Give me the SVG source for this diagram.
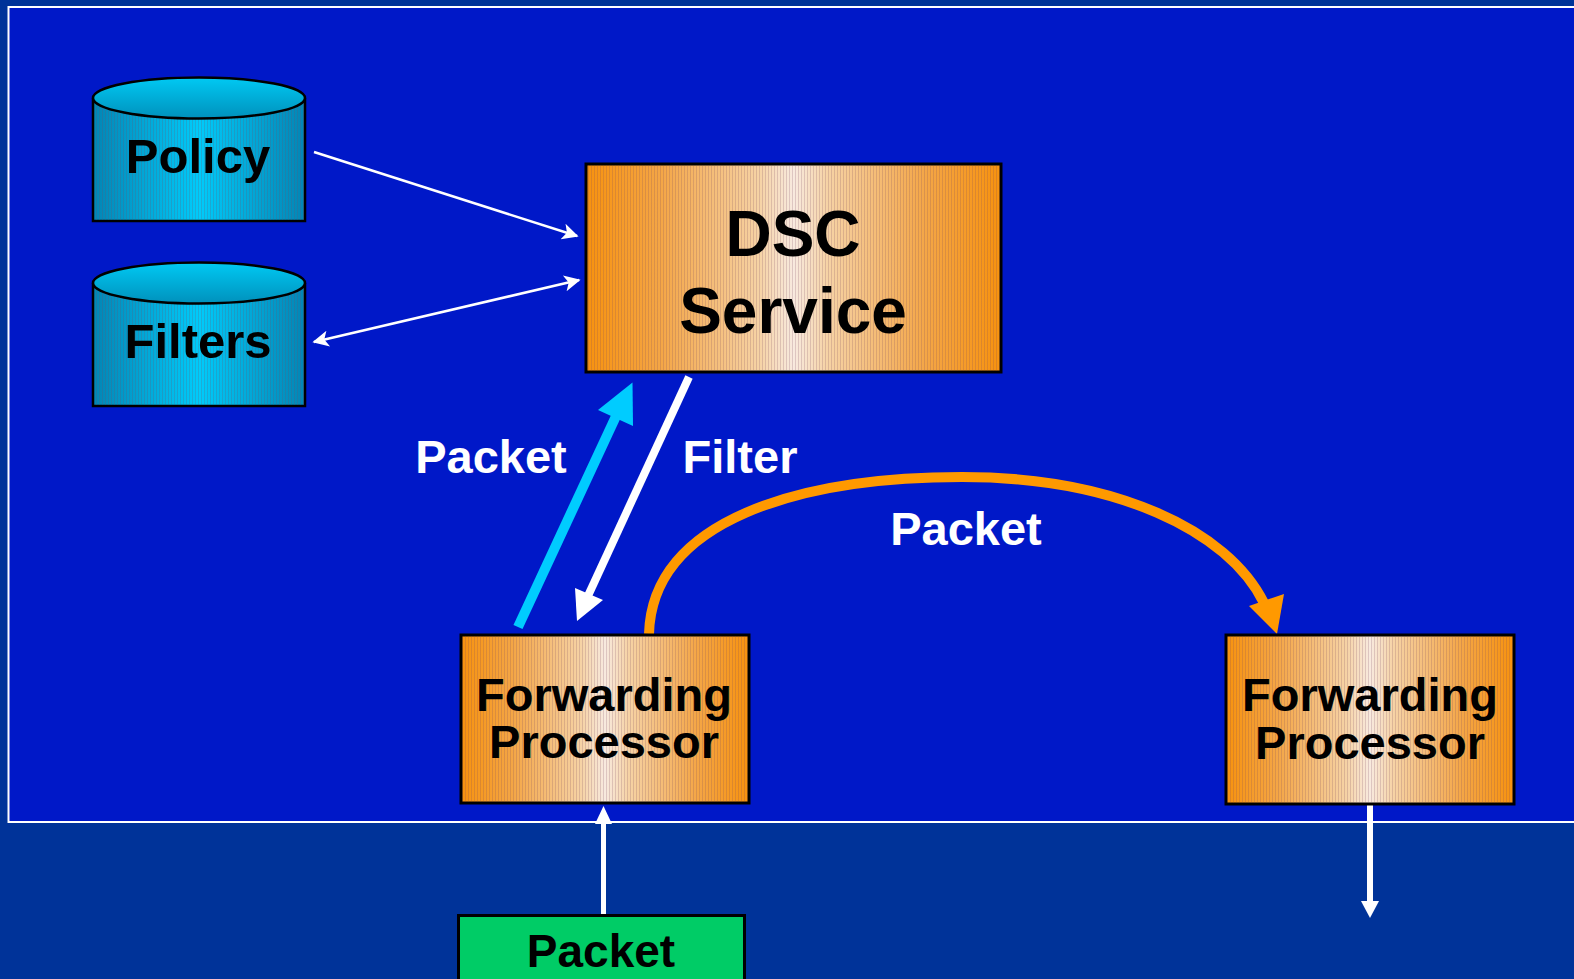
<svg xmlns="http://www.w3.org/2000/svg" width="1574" height="979" viewBox="0 0 1574 979">
  <style>
    .lbl { font-family: "Liberation Sans", Arial, sans-serif; font-weight: bold; text-anchor: middle; }
    .dark { fill: #000000; }
    .light { fill: #FFFFFF; }
    .box { stroke: #000000; stroke-width: 3; }
    .cyl { stroke: #000000; stroke-width: 2.5; }
    .thin { stroke: #FFFFFF; stroke-width: 2.5; fill: none; }
  </style>
  <defs>
    <!-- copper-like horizontal sheen for service / processor boxes -->
    <linearGradient id="gOrange" x1="0" y1="0" x2="1" y2="0">
      <stop offset="0" stop-color="#F7920E"/>
      <stop offset="0.18" stop-color="#F4A646"/>
      <stop offset="0.42" stop-color="#F6D3A6"/>
      <stop offset="0.5" stop-color="#F8EADF"/>
      <stop offset="0.58" stop-color="#F6D3A6"/>
      <stop offset="0.82" stop-color="#F4A646"/>
      <stop offset="1" stop-color="#F7920E"/>
    </linearGradient>
    <linearGradient id="gCylBody" x1="0" y1="0" x2="1" y2="0">
      <stop offset="0" stop-color="#0285B5"/>
      <stop offset="0.5" stop-color="#00CBFA"/>
      <stop offset="1" stop-color="#0285B5"/>
    </linearGradient>
    <linearGradient id="gCylTop" x1="0" y1="0" x2="0" y2="1">
      <stop offset="0" stop-color="#00C9F3"/>
      <stop offset="1" stop-color="#0091BC"/>
    </linearGradient>
    <!-- fine vertical striping laid over the gradients -->
    <pattern id="stripes" width="3" height="10" patternUnits="userSpaceOnUse">
      <rect x="0" y="0" width="1" height="10" fill="#7A4A60" fill-opacity="0.22"/>
    </pattern>
    <marker id="headThin" viewBox="0 0 10 10" refX="9" refY="5" markerWidth="7.5" markerHeight="6.5" orient="auto-start-reverse">
      <path d="M0,0 L10,5 L0,10 L2.5,5 Z" fill="#FFFFFF"/>
    </marker>
  </defs>

  <!-- backdrop -->
  <rect x="0" y="0" width="1574" height="979" fill="#003399"/>
  <rect x="8.5" y="7" width="1580" height="815" fill="#0018C8" stroke="#FFFFFF" stroke-width="2"/>

  <!-- connectors -->
  <g id="connectors">
    <line class="thin" x1="314" y1="152" x2="577" y2="236" marker-end="url(#headThin)"/>
    <line class="thin" x1="314" y1="342" x2="579" y2="280" marker-start="url(#headThin)" marker-end="url(#headThin)"/>

    <!-- packet up to service -->
    <line x1="518" y1="627" x2="617" y2="414" stroke="#00CCFF" stroke-width="10"/>
    <polygon points="632.5,382.5 598,410 633,426" fill="#00CCFF"/>

    <!-- filter back down -->
    <line x1="689" y1="377" x2="587" y2="598" stroke="#FFFFFF" stroke-width="8"/>
    <polygon points="577,621 575,588 603,600" fill="#FFFFFF"/>

    <!-- packet forwarded between processors -->
    <path d="M649,634 C652,520 800,477 962,477 C1115,477 1228,530 1264,603" fill="none" stroke="#FF9900" stroke-width="10"/>
    <polygon points="1277,634 1249,606 1284,594" fill="#FF9900"/>

    <!-- ingress / egress -->
    <line x1="603.5" y1="915" x2="603.5" y2="822" stroke="#FFFFFF" stroke-width="5"/>
    <polygon points="603.5,806 595,824 612,824" fill="#FFFFFF"/>
    <line x1="1370" y1="804" x2="1370" y2="902" stroke="#FFFFFF" stroke-width="6"/>
    <polygon points="1370,918 1361,901 1379,901" fill="#FFFFFF"/>
  </g>

  <!-- connector labels -->
  <text class="lbl light" x="491" y="473" font-size="47">Packet</text>
  <text class="lbl light" x="740" y="473" font-size="47">Filter</text>
  <text class="lbl light" x="966" y="545" font-size="47">Packet</text>

  <g id="policy">
    <path class="cyl" d="M93,98 L93,221 L305,221 L305,98" fill="url(#gCylBody)"/>
    <rect x="94" y="98" width="210" height="122" fill="url(#stripes)"/>
    <ellipse class="cyl" cx="199" cy="98" rx="106" ry="20.5" fill="url(#gCylTop)"/>
    <text class="lbl dark" x="198" y="173" font-size="49">Policy</text>
  </g>

  <g id="filters">
    <path class="cyl" d="M93,283 L93,406 L305,406 L305,283" fill="url(#gCylBody)"/>
    <rect x="94" y="283" width="210" height="122" fill="url(#stripes)"/>
    <ellipse class="cyl" cx="199" cy="283" rx="106" ry="20.5" fill="url(#gCylTop)"/>
    <text class="lbl dark" x="198" y="358" font-size="49">Filters</text>
  </g>

  <g id="dsc-service">
    <rect class="box" x="586" y="164" width="415" height="208" fill="url(#gOrange)"/>
    <rect x="587.5" y="165.5" width="412" height="205" fill="url(#stripes)"/>
    <text class="lbl dark" x="793" y="256" font-size="64">DSC</text>
    <text class="lbl dark" x="793" y="333" font-size="64">Service</text>
  </g>

  <g id="forwarding-processor-1">
    <rect class="box" x="461" y="635" width="288" height="168" fill="url(#gOrange)"/>
    <rect x="462.5" y="636.5" width="285" height="165" fill="url(#stripes)"/>
    <text class="lbl dark" x="604" y="711" font-size="47">Forwarding</text>
    <text class="lbl dark" x="604" y="758" font-size="47">Processor</text>
  </g>

  <g id="forwarding-processor-2">
    <rect class="box" x="1226" y="635" width="288" height="169" fill="url(#gOrange)"/>
    <rect x="1227.5" y="636.5" width="285" height="166" fill="url(#stripes)"/>
    <text class="lbl dark" x="1370" y="711" font-size="47">Forwarding</text>
    <text class="lbl dark" x="1370" y="759" font-size="47">Processor</text>
  </g>

  <g id="packet-in">
    <rect class="box" x="458.5" y="915.5" width="286" height="80" fill="#00CC66"/>
    <text class="lbl dark" x="601" y="967" font-size="46">Packet</text>
  </g>
</svg>
